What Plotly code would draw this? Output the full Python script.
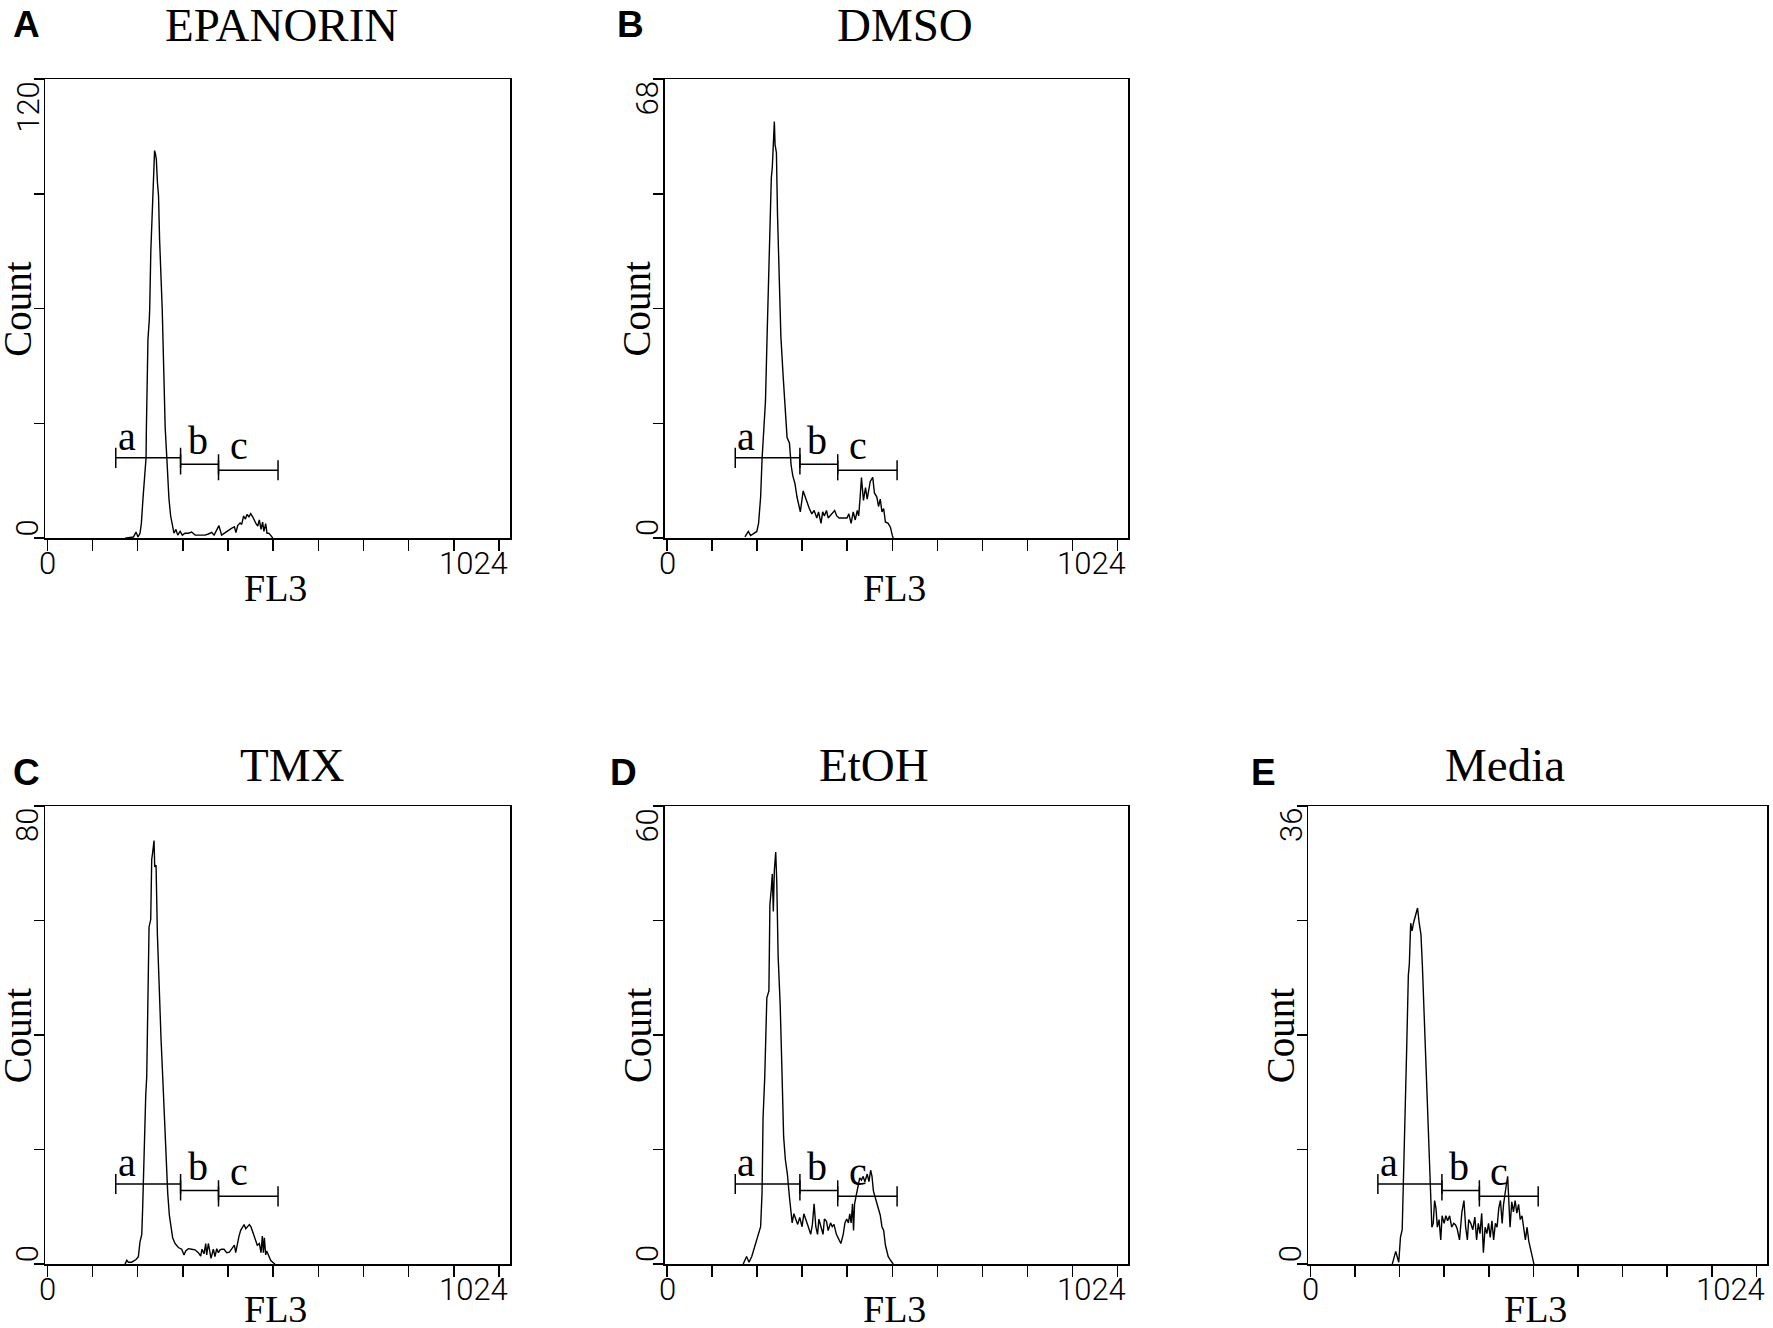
import plotly.graph_objects as go

# ---------------- data ----------------
PANEL_LETTERS = ["A", "B", "C", "D", "E"]
PANEL_TITLES = ["EPANORIN", "DMSO", "TMX", "EtOH", "Media"]
Y_MAX = [120, 68, 80, 60, 36]
X_MAX = 1024
X_TICK_LABELS = ["0", "1024"]
X_TITLE = "FL3"
Y_TITLE = "Count"

GATE_NAMES = ["a", "b", "c"]
GATE_START = [155, 302, 388]
GATE_END = [302, 388, 523]

A_FL3 = [176, 195, 201, 205.5, 210, 213, 217, 221, 223.7, 224.4, 225.9, 228, 231, 232, 234.5,
         237, 238.5, 240.5, 243, 245, 247, 249.5, 252, 254.4, 257, 260.4, 264, 267, 270.8,
         273, 275.5, 279.5, 284, 287, 291.5, 295.5, 301, 306, 312, 319.5, 327, 335, 346, 357.5,
         365, 372.5, 378, 384, 389, 395, 401, 409, 416.5, 424, 427.5, 431.5, 437, 440.5, 445,
         449, 452.5, 457, 461, 465.5, 469.5, 473, 477, 480.5, 484.5, 488, 491, 495, 498, 502,
         506, 511]
A_COUNT = [0, 0.3, 1.6, 0.3, 1.3, 3.8, 10.8, 18, 21, 28.3, 42.3, 52, 57, 60, 75,
           83.4, 85, 95, 101.3, 100.5, 99, 93, 89.5, 78.1, 70, 59.7, 43.1, 29.1, 21,
           15, 10.5, 5.8, 2.3, 1.3, 2.3, 0.8, 1.8, 0.8, 1.3, 1.3, 1.6, 0.8, 0.8, 0.8,
           1.1, 1.5, 0.8, 2.3, 3.3, 0.8, 1.3, 2.0, 2.5, 3.0, 1.5, 3.3, 4.0, 3.6, 5.8,
           5.0, 6.2, 5.6, 6.4, 5.6, 4.5, 3.8, 3.2, 4.8, 2.3, 4.2, 1.8, 3.8, 1.3, 1.3,
           0.8, 0]

B_FL3 = [177, 184.7, 190, 204, 208, 212.7, 216, 220.5, 223.7, 227.6, 231.5, 233.8, 237, 239.2,
         241.6, 243.9, 245.5, 248.6, 251, 254.8, 258.7, 264.2, 268, 272.8, 278.2, 282, 286,
         290.7, 295.4, 300, 303, 309.4, 314, 318.7, 323.4, 329, 334.3, 340.5, 344.4, 350,
         353.8, 357.7, 362.4, 366.3, 371.7, 377.2, 381, 385.8, 391.2, 396.7, 403, 409, 413.3,
         418.5, 423.2, 427.8, 432.5, 435.6, 438.7, 442, 446.5, 451.2, 455, 462, 467.6, 471.5,
         477, 480.8, 484.7, 488.6, 492.5, 496.4, 502.7, 508, 512, 514.3]
B_COUNT = [0.2, 1.0, 0.4, 1.0, 2.2, 6.1, 11.8, 17.5, 20.3, 30.5, 40.1, 48.1, 53.4, 54.9,
           59.4, 61.7, 58.3, 57.1, 48.1, 37.9, 29.9, 23.7, 18.9, 14.9, 14.1, 10.8, 9.2,
           8.1, 6.1, 4.4, 3.9, 7.0, 6.1, 5.0, 4.4, 3.6, 4.1, 3.0, 3.9, 2.2,
           3.9, 3.3, 4.1, 3.0, 3.4, 3.9, 4.1, 3.3, 3.0, 3.0, 3.0, 3.0, 3.6,
           2.2, 3.9, 2.7, 4.1, 3.3, 5.8, 9.0, 5.6, 7.5, 5.8, 8.4, 9.0, 6.7,
           6.1, 4.7, 5.8, 3.9, 4.4, 2.4, 2.2, 1.6, 0.45, 0]

C_FL3 = [176, 180, 183.6, 191.2, 201, 206.3, 210, 214, 216, 217.6, 220, 223, 225.2, 227.5,
         230.5, 234.3, 236.5, 238.8, 241.8, 243.3, 246.4, 249.4, 254, 257.7, 261.5, 264.5,
         267.5, 270.5, 272.8, 276.6, 280.4, 284, 289.4, 297, 304.5, 309.8, 313.6, 319.7,
         327.2, 334.8, 342.3, 347.6, 350.6, 355.2, 359, 361.2, 365, 368.8, 371, 376.3, 380,
         384, 387.7, 391.4, 395.2, 400.5, 406.6, 412.6, 418, 424, 427, 430.8, 434.5, 438.3,
         442, 446, 449.7, 453.4, 458, 461.7, 465.5, 470.8, 476, 480.6, 484.4, 487.4, 489.7,
         492, 495, 497.3, 501.8, 506.3, 510.8, 516]
C_COUNT = [0, 0.65, 0.33, 0.33, 0.8, 1.3, 3.9, 5.2, 9.8, 15.7, 19.6, 29.5, 32.7, 43.9,
           58.9, 60.2, 70.7, 72, 74, 69.4, 69.7, 57.6, 45.8, 39.3, 32.7, 26.8,
           22.9, 16.4, 12.4, 8.5, 6.5, 4.6, 3.6, 2.9, 2.6, 1.6, 2.3, 2.7,
           2.6, 2.5, 2.0, 1.4, 2.6, 1.8, 3.6, 1.6, 3.6, 2.0, 1.0, 2.6, 1.3,
           2.7, 2.0, 2.5, 2.6, 2.6, 2.0, 2.1, 2.6, 3.3, 2.0, 3.9, 4.9, 5.9,
           6.5, 6.9, 6.2, 6.5, 6.9, 6.5, 5.6, 4.6, 3.3, 3.6, 2.0, 4.9, 2.0,
           4.6, 1.6, 2.3, 1.3, 0.65, 0.33, 0]

D_FL3 = [173, 180.8, 186.3, 192.5, 200.3, 208.1, 212.7, 215.9, 218.2, 222.1, 226.8, 231.5,
         233.8, 236.9, 239.2, 241.6, 243.9, 247, 249.4, 252.5, 257.2, 261.1, 265, 268.9,
         273.5, 278.2, 282.1, 284.4, 288.3, 292.2, 296.9, 301.6, 307, 310.9, 315.6, 321.1,
         326.5, 330.4, 334.3, 338.2, 342.1, 345.2, 349.9, 354.6, 357.7, 362.4, 366.3, 371.7,
         375.6, 379.5, 385, 389.6, 395.1, 400.5, 404.4, 408.4, 412.3, 415.4, 418.5, 421.6,
         424, 426.3, 429.4, 431.7, 434.1, 438, 441.9, 445.8, 449.7, 455.1, 459, 462.9, 466,
         469.1, 473, 479.3, 484.7, 488.6, 492.5, 496.4, 502.7, 508.1, 514.3]
D_COUNT = [0, 1.0, 0.25, 1.0, 2.5, 3.9, 4.9, 9.3, 19.1, 24.6, 34.9, 35.8,
           47.1, 49.1, 51.1, 46.2, 51.6, 54.0, 50.1, 40.3, 33.9, 25.5, 16.7, 13.7,
           11.8, 8.8, 5.9, 5.4, 6.6, 5.9, 5.2, 6.1, 4.9, 6.6, 5.9, 4.9,
           3.9, 5.2, 7.9, 4.9, 3.9, 5.9, 4.9, 3.9, 5.9, 5.6, 4.4, 5.4,
           4.9, 5.2, 3.9, 3.4, 2.7, 3.9, 5.4, 5.9, 5.4, 6.6, 5.4, 7.9,
           4.4, 7.9, 8.8, 9.8, 10.6, 11.3, 11.0, 11.5, 10.8, 11.8, 10.8, 12.3, 11.5,
           9.6, 8.8, 7.6, 6.4, 4.9, 4.4, 2.5, 1.0, 0.5, 0]

E_FL3 = [188, 195.9, 202.9, 206.8, 210.8, 213.1, 217, 221, 224.9, 227.2, 230.3, 233.5,
         236.6, 240.5, 246, 249.9, 253.9, 257, 261.7, 265.6, 269.5, 272.7, 275.8, 278.9,
         282.1, 285.2, 288.3, 291.5, 295.4, 299.3, 302.4, 307.1, 311, 315, 319.7, 324.4,
         329.1, 333, 336.9, 342.4, 347.9, 352.6, 356.5, 360.4, 363.5, 368.2, 372.9, 377.6,
         381.6, 385.5, 389.4, 393.3, 397.2, 401.2, 405.1, 409, 412.9, 416.8, 420.7, 424.7,
         428.6, 432.5, 436.4, 440.3, 443.5, 446.6, 449.7, 452.9, 456, 458.4, 462.3, 466.2,
         470.1, 474, 478, 481.9, 485.8, 489.7, 493.6, 497.5, 501.4, 505.4, 509.3, 513.2]
E_COUNT = [0, 1.0, 0.15, 2.1, 2.7, 6.5, 11.8, 16.8, 22.7, 23.6, 26.8, 26.2,
           26.8, 27.4, 28.0, 26.8, 25.9, 23.6, 19.4, 14.7, 11.2, 8.2, 5.9, 2.9,
           3.2, 5.0, 4.4, 2.9, 3.5, 1.9, 3.8, 3.2, 3.8, 3.4, 3.8, 2.9,
           3.2, 3.1, 2.8, 1.9, 4.1, 5.0, 2.9, 1.9, 3.5, 3.2, 2.7, 3.7,
           1.9, 3.2, 2.4, 4.0, 0.9, 2.9, 2.4, 3.2, 2.1, 3.4, 1.9, 3.2,
           2.9, 4.4, 5.0, 3.2, 4.7, 5.3, 6.2, 6.9, 4.4, 2.9, 4.9, 4.1,
           5.0, 4.0, 4.7, 3.5, 3.8, 2.9, 1.9, 2.9, 1.8, 1.2, 0.6, 0]

SERIES_X = [A_FL3, B_FL3, C_FL3, D_FL3, E_FL3]
SERIES_Y = [A_COUNT, B_COUNT, C_COUNT, D_COUNT, E_COUNT]

# ---------------- layout / style ----------------
W, H = 1773, 1328


def px(v):
    return v / W


def py(v):
    return 1 - v / H


BOX_LEFT = [45.2, 664.9, 45.2, 664.9, 1308.2]
BOX_RIGHT = [510.0, 1128.4, 510.0, 1128.4, 1767.3]
BOX_TOP = [79.1, 79.1, 806.2, 806.2, 806.2]
BOX_BOTTOM = [538.2, 538.2, 1264.1, 1264.1, 1264.1]
XTITLE_GAP = [50, 50, 45, 45, 45]
TITLE_X = [281, 905, 292, 874, 1505]
TITLE_Y = [25, 25, 765, 765, 765]
LETTER_X = [26, 630, 26, 623, 1263]
LETTER_Y = [24, 24, 772, 772, 772]
X_RANGE = [-5, 1049]
GATE_Y = [0.175, 0.161, 0.148]
GATE_TICK = 0.022
GATE_LABEL_DX = [25, 39, 46]
GATE_LABEL_Y = [0.222, 0.213, 0.203]

SERIF = "Liberation Serif, Times New Roman, serif"
SANS = "Liberation Sans, Arial, sans-serif"
TICKFONT = dict(family="Roboto, Liberation Sans, sans-serif", size=31, color="black", weight=300)
LW = 1.5

fig = go.Figure()
annotations = []
shapes = []
layout = dict(width=W, height=H, margin=dict(l=0, r=0, t=0, b=0),
              paper_bgcolor="white", plot_bgcolor="white", showlegend=False)

for i in range(5):
    n = "" if i == 0 else str(i + 1)
    xa, ya = "x" + n, "y" + n
    xd = [px(BOX_LEFT[i]), px(BOX_RIGHT[i])]
    yd = [py(BOX_BOTTOM[i]), py(BOX_TOP[i])]
    ymax = Y_MAX[i]
    layout["xaxis" + n] = dict(
        domain=xd, range=X_RANGE, anchor=ya,
        tickvals=[X_MAX * k / 10 for k in range(11)], showticklabels=False,
        ticks="outside", ticklen=11, tickwidth=LW, tickcolor="black",
        showline=True, linecolor="black", linewidth=LW, mirror=True,
        showgrid=False, zeroline=False, fixedrange=True)
    layout["yaxis" + n] = dict(
        domain=yd, range=[0, ymax], anchor=xa,
        tickvals=[ymax * k / 4 for k in range(5)], showticklabels=False,
        ticks="outside", ticklen=10, tickwidth=LW, tickcolor="black",
        showline=True, linecolor="black", linewidth=LW, mirror=True,
        showgrid=False, zeroline=False, fixedrange=True)

    fig.add_trace(go.Scatter(x=SERIES_X[i], y=SERIES_Y[i], mode="lines",
                             line=dict(color="black", width=1.4),
                             xaxis=xa, yaxis=ya, hoverinfo="skip"))

    # gates
    for j in range(3):
        x0, x1, yg = GATE_START[j], GATE_END[j], GATE_Y[j]
        common = dict(type="line", xref=xa, yref=ya + " domain",
                      line=dict(color="black", width=LW))
        shapes.append(dict(common, x0=x0, x1=x1, y0=yg, y1=yg))
        shapes.append(dict(common, x0=x0, x1=x0, y0=yg - GATE_TICK, y1=yg + GATE_TICK))
        shapes.append(dict(common, x0=x1, x1=x1, y0=yg - GATE_TICK, y1=yg + GATE_TICK))
        annotations.append(dict(text=GATE_NAMES[j], xref=xa, yref=ya + " domain",
                                x=GATE_START[j] + GATE_LABEL_DX[j], y=GATE_LABEL_Y[j],
                                xanchor="center", yanchor="middle", showarrow=False,
                                font=dict(family=SERIF, size=40, color="black")))

    # x tick labels
    annotations.append(dict(text=X_TICK_LABELS[0], xref=xa, yref="paper", x=0,
                            y=py(BOX_BOTTOM[i]), yshift=-25, xanchor="center",
                            yanchor="middle", showarrow=False, font=TICKFONT))
    annotations.append(dict(text=X_TICK_LABELS[1], xref=xa + " domain", yref="paper", x=1,
                            y=py(BOX_BOTTOM[i]), yshift=-25, xanchor="right",
                            yanchor="middle", showarrow=False, font=TICKFONT))
    # y tick labels (rotated)
    annotations.append(dict(text="0", xref="paper", yref=ya + " domain",
                            x=px(BOX_LEFT[i]), xshift=-17.5, y=0, xanchor="center",
                            yanchor="bottom", textangle=-90, showarrow=False, font=TICKFONT))
    annotations.append(dict(text=str(ymax), xref="paper", yref=ya + " domain",
                            x=px(BOX_LEFT[i]), xshift=-17.5, y=1, xanchor="center",
                            yanchor="top", textangle=-90, showarrow=False, font=TICKFONT))
    # axis titles
    annotations.append(dict(text=Y_TITLE, xref="paper", yref=ya + " domain",
                            x=px(BOX_LEFT[i]), xshift=-28, y=0.5, xanchor="center",
                            yanchor="middle", textangle=-90, showarrow=False,
                            font=dict(family=SERIF, size=39, color="black")))
    annotations.append(dict(text=X_TITLE, xref=xa + " domain", yref="paper", x=0.495,
                            y=py(BOX_BOTTOM[i] + XTITLE_GAP[i]), xanchor="center",
                            yanchor="middle", showarrow=False,
                            font=dict(family=SERIF, size=38, color="black")))
    # titles and panel letters
    annotations.append(dict(text=PANEL_TITLES[i], xref="paper", yref="paper",
                            x=px(TITLE_X[i]), y=py(TITLE_Y[i]), xanchor="center",
                            yanchor="middle", showarrow=False,
                            font=dict(family=SERIF, size=47, color="black")))
    annotations.append(dict(text="<b>" + PANEL_LETTERS[i] + "</b>", xref="paper", yref="paper",
                            x=px(LETTER_X[i]), y=py(LETTER_Y[i]), xanchor="center",
                            yanchor="middle", showarrow=False,
                            font=dict(family=SANS, size=37, color="black")))

layout["annotations"] = annotations
layout["shapes"] = shapes
fig.update_layout(**layout)
fig.write_html("out.html",
               config={"displayModeBar": False, "staticPlot": True},
               post_script="document.body.style.margin='0px';"
                           "document.body.style.overflow='hidden';")
